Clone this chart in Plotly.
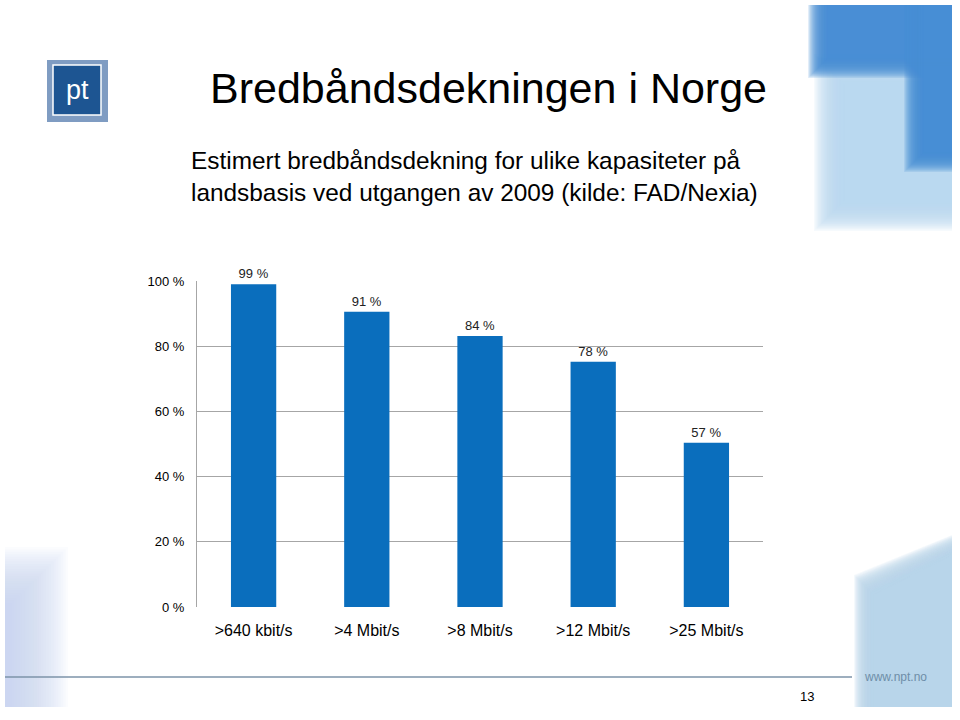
import plotly.graph_objects as go

categories = [">640 kbit/s", ">4 Mbit/s", ">8 Mbit/s", ">12 Mbit/s", ">25 Mbit/s"]
coverage = [99.0, 90.6, 83.1, 75.2, 50.4]
value_labels = ["99 %", "91 %", "84 %", "78 %", "57 %"]
y_ticks = [0, 20, 40, 60, 80, 100]
y_tick_labels = ["0 %", "20 %", "40 %", "60 %", "80 %", "100 %"]

W, H = 960, 720
L, R, T, B = 197, 763, 281, 607
FONT = "Liberation Sans, Arial, sans-serif"
IMG_X0, IMG_X1, IMG_Y0, IMG_Y1 = 5, 952, 5, 707


def px(x):
    return (x - L) / (R - L)


def py(y):
    return (B - y) / (B - T)


fig = go.Figure()
fig.add_trace(go.Bar(
    x=categories, y=coverage, text=value_labels, textposition="outside",
    marker=dict(color="#0a6ebd", line=dict(width=0)), width=0.4,
    textfont=dict(family=FONT, size=13, color="#222"), cliponaxis=False,
))

shapes = []


def clampx(x):
    return min(max(x, IMG_X0), IMG_X1)


def clampy(y):
    return min(max(y, IMG_Y0), IMG_Y1)


def blur_poly(pts, color, steps=24, spread=18, alpha=0.11):
    cx = sum(p[0] for p in pts) / len(pts)
    cy = sum(p[1] for p in pts) / len(pts)
    for i in range(steps):
        d = spread * (1 - 2 * i / (steps - 1))
        q = []
        for (x, y) in pts:
            sx = 1 if x > cx else -1
            sy = 1 if y > cy else -1
            ex = 0 if x in (IMG_X0, IMG_X1) else sx * d
            ey = 0 if y in (IMG_Y0, IMG_Y1) else sy * d
            q.append((clampx(x + ex), clampy(y + ey)))
        path = "M " + " L ".join(f"{px(x)},{py(y)}" for x, y in q) + " Z"
        shapes.append(dict(type="path", xref="paper", yref="paper", layer="below", path=path,
                           fillcolor=color, opacity=alpha, line=dict(width=0)))


def blur_rect(x0, y0, x1, y1, color, **kw):
    blur_poly([(x0, y0), (x1, y0), (x1, y1), (x0, y1)], color, **kw)


# decorative blurred background
blur_rect(830, 70, IMG_X1, 215, "#bcd7ee", steps=24, spread=16, alpha=0.13)
blur_rect(818, IMG_Y0, IMG_X1, 68, "#4a8fd2", steps=24, spread=10, alpha=0.14)
blur_rect(914, IMG_Y0, IMG_X1, 162, "#4a8fd2", steps=24, spread=10, alpha=0.14)
blur_poly([(864, 585), (IMG_X1, 545), (IMG_X1, IMG_Y1), (864, IMG_Y1)], "#b9d5ed", steps=24, spread=10, alpha=0.14)
blur_rect(IMG_X0, 575, 40, IMG_Y1, "#c2daef", steps=24, spread=28, alpha=0.07)

# footer line
shapes.append(dict(type="line", xref="paper", yref="paper", x0=px(5), x1=px(852), y0=py(677), y1=py(677),
                   line=dict(color="#7d93a8", width=1.5)))

# logo
shapes.append(dict(type="rect", xref="paper", yref="paper", x0=px(47), x1=px(108), y0=py(60), y1=py(122),
                   fillcolor="#7f9cc2", line=dict(width=0)))
shapes.append(dict(type="rect", xref="paper", yref="paper", x0=px(53), x1=px(101), y0=py(65), y1=py(115),
                   fillcolor="#1d5592", line=dict(color="white", width=1.5)))

annotations = [
    dict(text="pt", x=px(77), y=py(90), xref="paper", yref="paper", showarrow=False,
         font=dict(family=FONT, size=27, color="white"), xanchor="center", yanchor="middle"),
    dict(text="Bredbåndsdekningen i Norge", x=px(208), y=py(88), xref="paper", yref="paper",
         showarrow=False, font=dict(family=FONT, size=43, color="black"), xanchor="left", yanchor="middle"),
    dict(text="Estimert bredbåndsdekning for ulike kapasiteter på<br>landsbasis ved utgangen av 2009 (kilde: FAD/Nexia)",
         x=px(189), y=py(176), xref="paper", yref="paper", showarrow=False, align="left",
         font=dict(family=FONT, size=24.4, color="black"), xanchor="left", yanchor="middle"),
    dict(text="www.npt.no", x=px(862), y=py(677), xref="paper", yref="paper", showarrow=False,
         font=dict(family=FONT, size=12, color="#6e8ea8"), xanchor="left", yanchor="middle"),
    dict(text="13", x=px(807), y=py(696), xref="paper", yref="paper", showarrow=False,
         font=dict(family=FONT, size=13, color="black"), xanchor="center", yanchor="middle"),
]

fig.update_layout(
    width=W, height=H, margin=dict(l=L, r=W - R, t=T, b=H - B, pad=0),
    paper_bgcolor="white", plot_bgcolor="rgba(0,0,0,0)",
    showlegend=False, shapes=shapes, annotations=annotations,
    bargap=0.6,
    font=dict(family=FONT, color="black"),
)
fig.update_xaxes(showgrid=False, showline=False, ticks="", ticklabelstandoff=12,
                 tickfont=dict(family=FONT, size=16, color="black"))
fig.update_yaxes(range=[0, 100], tickvals=y_ticks, ticktext=y_tick_labels,
                 showgrid=True, gridcolor="#a6a6a6", gridwidth=1,
                 showline=True, linecolor="#a6a6a6", linewidth=1,
                 ticks="", ticklabelstandoff=9,
                 zeroline=False, tickfont=dict(family=FONT, size=13, color="black"))

fig.write_html("out.html")
